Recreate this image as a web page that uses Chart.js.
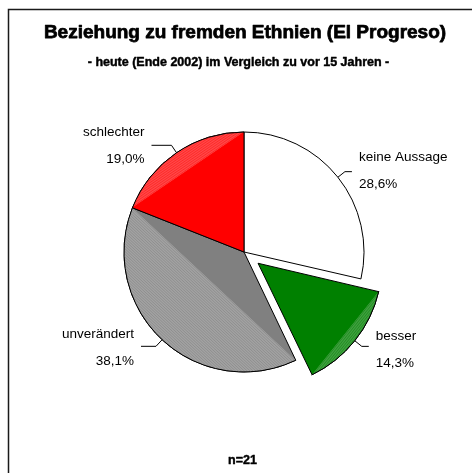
<!DOCTYPE html>
<html lang="de">
<head>
<meta charset="utf-8">
<title>Beziehung zu fremden Ethnien (El Progreso)</title>
<script src="https://cdn.jsdelivr.net/npm/chart.js@4.4.1/dist/chart.umd.min.js"></script>
<style>
  html, body { margin: 0; padding: 0; background: #fff; }
  #wrap { width: 472px; height: 473px; }
</style>
</head>
<body>
<div id="wrap"><canvas id="pieChart" width="472" height="473"></canvas></div>
<script>
// Data
const categories = ['keine Aussage', 'besser', 'unverändert', 'schlechter'];
const shares = [28.6, 14.3, 38.1, 19.0];
const sampleSize = 21;

const titleText = 'Beziehung zu fremden Ethnien (El Progreso)';
const subtitleText = '- heute (Ende 2002) im Vergleich zu vor 15 Jahren -';

// Styles
const sliceColors = ['#ffffff', '#008000', '#808080', '#ff0000'];
// light band between chord and arc: [fill, hatch line]
const shadeColors = [null, ['#3f9f3f', '#1c8c1c'], ['#a2a2a2', '#8a8a8a'], ['#ff4848', '#ff2222']];
const sliceOffsets = [0, 72, 0, 0]; // chart.js shifts a slice by offset/4
const labelNudge = [{ dx: 0, dy: -1 }, { dx: 0, dy: 3 }, { dx: -8, dy: 1 }, { dx: -13, dy: 0 }];

const FONT = '"Liberation Sans", Arial, sans-serif';

function fmtPct(v) {
    return v.toFixed(1).replace('.', ',') + '%';
}

// where chart.js really draws a slice (offset shift included)
function sliceGeom(arc) {
    const p = arc.getProps(['x', 'y', 'startAngle', 'endAngle', 'outerRadius', 'circumference'], true);
    const off = (arc.options.offset || 0) / 4;
    const mid = (p.startAngle + p.endAngle) / 2;
    const fix = 1 - Math.sin(Math.min(Math.PI, p.circumference || 0));
    return {
        x: p.x + Math.cos(mid) * off,
        y: p.y + Math.sin(mid) * off,
        r: p.outerRadius + off * fix,
        start: p.startAngle,
        end: p.endAngle,
        mid
    };
}

// heavy text (the original uses a black-weight face)
function heavyText(ctx, text, x, y, weight) {
    ctx.lineWidth = weight;
    ctx.lineJoin = 'round';
    ctx.strokeStyle = '#000';
    ctx.strokeText(text, x, y);
    ctx.fillText(text, x, y);
}

// white page + the frame (only top and left edge are in the picture)
const framePlugin = {
    id: 'frame',
    beforeDraw(chart) {
        const ctx = chart.ctx;
        ctx.save();
        ctx.fillStyle = '#fff';
        ctx.fillRect(0, 0, chart.width, chart.height);
        ctx.strokeStyle = '#1a1a1a';
        ctx.lineWidth = 1.5;
        ctx.beginPath();
        ctx.moveTo(8.5, chart.height);
        ctx.lineTo(8.5, 9.5);
        ctx.lineTo(chart.width, 9.5);
        ctx.stroke();
        ctx.restore();
    }
};

// lighter hatched segment near the rim of each coloured slice
const shadePlugin = {
    id: 'shade',
    afterDatasetsDraw(chart) {
        const ctx = chart.ctx;
        chart.getDatasetMeta(0).data.forEach((arc, i) => {
            const shade = shadeColors[i];
            if (!shade) return;
            const g = sliceGeom(arc);
            const half = (g.end - g.start) / 2;
            const ax = g.x + Math.cos(g.start) * g.r, ay = g.y + Math.sin(g.start) * g.r;
            const bx = g.x + Math.cos(g.end) * g.r, by = g.y + Math.sin(g.end) * g.r;
            const len = Math.hypot(bx - ax, by - ay);
            const ux = (bx - ax) / len, uy = (by - ay) / len;
            const nx = Math.cos(g.mid), ny = Math.sin(g.mid);
            const chordDist = g.r * Math.cos(half);

            ctx.save();
            ctx.beginPath();
            ctx.arc(g.x, g.y, g.r, g.start, g.end);
            ctx.closePath();
            ctx.clip();
            ctx.fillStyle = shade[0];
            ctx.fill();
            ctx.strokeStyle = shade[1];
            ctx.lineWidth = 0.8;
            for (let d = chordDist + 1; d < g.r; d += 2) {
                const cx = g.x + nx * d, cy = g.y + ny * d;
                ctx.beginPath();
                ctx.moveTo(cx - ux * g.r, cy - uy * g.r);
                ctx.lineTo(cx + ux * g.r, cy + uy * g.r);
                ctx.stroke();
            }
            ctx.restore();

            // outline again, the fill covered half of it
            ctx.save();
            ctx.strokeStyle = '#000';
            ctx.lineWidth = 1;
            ctx.beginPath();
            ctx.arc(g.x, g.y, g.r, g.start, g.end);
            ctx.stroke();
            ctx.restore();
        });
    }
};

// leader lines, slice labels and the titles
const labelPlugin = {
    id: 'sliceLabels',
    afterDraw(chart) {
        const ctx = chart.ctx;
        ctx.save();
        chart.getDatasetMeta(0).data.forEach((arc, i) => {
            const g = sliceGeom(arc);
            const dx = Math.cos(g.mid), dy = Math.sin(g.mid);
            const side = dx >= 0 ? 1 : -1;
            const x0 = g.x + dx * g.r, y0 = g.y + dy * g.r;
            const x1 = x0 + dx * 9, y1 = y0 + dy * 9;
            const tx = x1 + side * 14 + labelNudge[i].dx;
            const x2 = tx - side * 7;

            ctx.strokeStyle = '#000';
            ctx.lineWidth = 1;
            ctx.beginPath();
            ctx.moveTo(x0, y0);
            ctx.lineTo(x1, y1);
            ctx.lineTo(x2, y1);
            ctx.stroke();

            ctx.fillStyle = '#000';
            ctx.font = '13.5px ' + FONT;
            ctx.textAlign = side > 0 ? 'left' : 'right';
            ctx.textBaseline = 'middle';
            const cy = y1 + labelNudge[i].dy;
            ctx.fillText(categories[i], tx, cy - 13.5);
            ctx.fillText(fmtPct(shares[i]), tx, cy + 13.5);
        });

        ctx.fillStyle = '#000';
        ctx.textAlign = 'center';
        ctx.textBaseline = 'middle';
        ctx.font = 'bold 19px ' + FONT;
        heavyText(ctx, titleText, 245, 33, 0.75);
        ctx.font = 'bold 12.5px ' + FONT;
        heavyText(ctx, subtitleText, 238.5, 63, 0.45);
        heavyText(ctx, 'n=' + sampleSize, 242.5, 461, 0.45);
        ctx.restore();
    }
};

const ctx = document.getElementById('pieChart').getContext('2d');
const myChart = new Chart(ctx, {
    type: 'pie',
    data: {
        labels: categories,
        datasets: [{
            data: shares,
            backgroundColor: sliceColors,
            borderColor: '#000',
            borderWidth: 1,
            offset: sliceOffsets
        }]
    },
    options: {
        responsive: false,
        animation: false,
        radius: 120,
        layout: { padding: { left: 16, top: 31, right: 0, bottom: 0 } },
        plugins: {
            legend: { display: false },
            tooltip: { enabled: false }
        }
    },
    plugins: [framePlugin, shadePlugin, labelPlugin]
});
</script>
</body>
</html>
